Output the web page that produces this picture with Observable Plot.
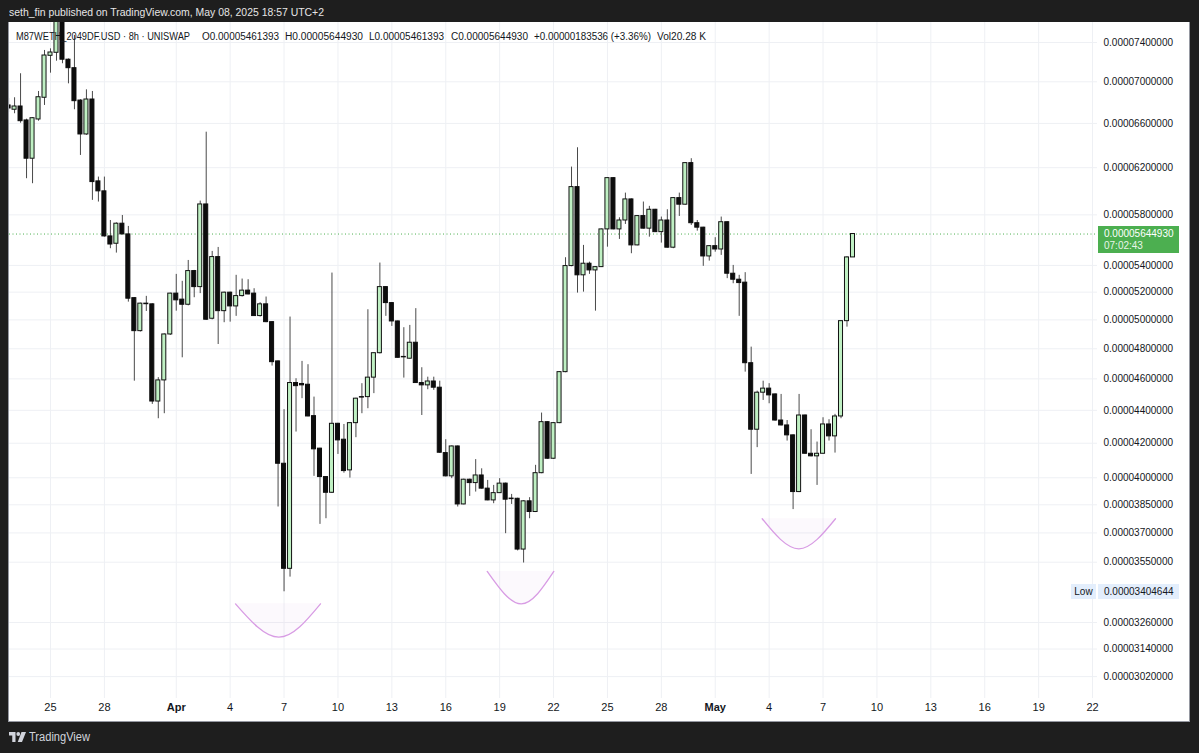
<!DOCTYPE html>
<html><head><meta charset="utf-8">
<script src="https://cdn.jsdelivr.net/npm/d3@7"></script>
<script src="https://cdn.jsdelivr.net/npm/@observablehq/plot@0.6"></script>
<style>
*{box-sizing:border-box}
html,body{margin:0;padding:0}
body{width:1199px;height:753px;background:#1e1e1e;position:relative;overflow:hidden;font-family:"Liberation Sans",Arial,sans-serif}
.abs{position:absolute;white-space:nowrap;display:inline-block}
#panel{position:absolute;left:8px;top:22px;width:1182px;height:700px;background:#fff;border:1px solid #9598a1;border-top:none}
#chart{position:absolute;left:0;top:0}
.leg{font-size:10px;color:#131722;line-height:14px;top:30px}
</style></head><body>
<div id="header" class="abs" style="left:9px;top:5px;font-size:11px;line-height:14px;color:#e6e6e6">seth_fin published on TradingView.com, May 08, 2025 18:57 UTC+2</div>
<div id="panel"><div id="chart"></div></div>
<svg class="abs" style="left:9px;top:732px" width="17" height="10" viewBox="0 0 34 20"><path fill="#d1d4dc" d="M0 0H13V20H6.5V7H0Z"/><circle fill="#d1d4dc" cx="18.5" cy="4" r="3.8"/><path fill="#d1d4dc" d="M25 0H34L26 20H17.5Z"/></svg>
<div id="footer" class="abs" style="left:29px;top:730px;font-size:12px;line-height:14px;color:#d1d4dc">TradingView</div>
<script>
// ---- data (prices in units of 1e-5) ----
const UNIT = 1e-5;
const firstBar = "2025-03-22T16:00:00Z";
const barHours = 8;

const open = [
6.770,
6.729,6.760,6.628, 6.279,6.637,6.844, 7.262,7.293,7.720, 7.222,7.136,6.817,
6.498,6.827,6.081, 5.996,5.626,5.568, 5.728,5.642,5.156, 4.921,5.116,5.111,
4.455,4.590,4.898, 5.189,5.145,5.108, 5.357,5.237,5.886, 5.008,5.464,5.062,
5.196,5.096,5.171, 5.211,5.189,5.027, 5.111,4.984,4.715, 4.080,3.517,4.573,
4.567,4.562,4.364, 4.168,4.004,3.916, 4.317,4.221,4.042, 4.321,4.483,4.483,
4.608,4.770,5.237, 5.120,4.989,4.742, 4.733,4.841,4.573, 4.558,4.583,4.543,
4.142,4.008,4.181, 3.852,3.989,3.970, 4.013,3.939,3.874, 3.914,3.967,3.881,
3.883,3.614,3.869, 3.811,4.026,4.327, 4.109,4.321,4.644, 5.395,6.032,5.325,
5.413,5.362,5.387, 5.682,6.109,5.682, 5.754,5.928,5.555, 5.790,5.688,5.842,
5.660,5.754,5.537, 5.939,5.884,6.240, 5.732,5.696,5.469, 5.549,5.523,5.740,
5.337,5.292,5.270, 4.703,4.281,4.511, 4.537,4.500,4.337, 4.307,4.247,3.920,
4.368,4.138,4.123, 4.138,4.313,4.241, 4.362,4.991,5.461393
];
const high = [
6.837,
6.844,7.080,6.640, 6.655,6.905,7.317, 7.334,7.800,7.850, 7.230,7.474,6.825,
6.921,6.905,6.118, 6.118,5.754,5.735, 5.795,5.706,5.160, 5.120,5.169,5.115,
4.608,4.902,5.192, 5.332,5.280,5.438, 5.362,5.914,6.519, 5.508,5.539,5.200,
5.200,5.325,5.297, 5.292,5.225,5.123, 5.164,4.988,4.718, 4.404,5.020,4.601,
4.715,4.693,4.483, 4.170,4.006,5.342, 4.320,4.313,4.325, 4.476,4.569,5.072,
4.773,5.418,5.240, 5.124,4.992,4.945, 4.961,5.080,4.673, 4.611,4.611,4.585,
4.221,4.184,4.184, 3.992,3.992,4.104, 4.051,3.985,3.957, 3.995,3.970,3.907,
3.886,3.872,3.889, 4.071,4.383,4.330, 4.325,4.647,5.459, 6.205,6.377,5.555,
5.425,5.390,5.685, 6.112,6.112,5.776, 5.981,5.932,5.793, 5.906,5.870,5.845,
5.782,5.842,5.942, 5.981,6.243,6.279, 5.754,5.699,5.552, 5.616,5.782,5.743,
5.400,5.325,5.345, 4.811,4.521,4.585, 4.569,4.503,4.500, 4.337,4.250,4.500,
4.371,4.281,4.207, 4.354,4.342,4.375, 4.994,5.467,5.644930
];
const low = [
6.703,
6.691,6.602,6.104, 6.061,6.621,6.770, 7.086,7.207,7.181, 6.980,6.729,6.308,
6.490,5.920,5.906, 5.620,5.529,5.495, 5.638,5.127,4.585, 4.915,5.060,4.437,
4.348,4.379,4.891, 5.062,4.739,5.100, 5.159,5.189,4.996, 5.000,4.829,4.980,
4.984,5.025,5.164, 5.180,5.024,5.020, 4.980,4.684,3.838, 3.404644,3.476,4.267,
4.473,4.360,4.008, 3.745,3.775,3.912, 4.134,4.026,3.998, 4.233,4.379,4.410,
4.505,4.765,5.025, 4.954,4.736,4.605, 4.730,4.570,4.368, 4.530,4.526,4.140,
4.005,3.995,3.838, 3.850,3.896,3.920, 3.936,3.872,3.856, 3.912,3.696,3.852,
3.607,3.546,3.775, 3.808,4.023,4.106, 4.106,4.318,4.640, 5.390,5.193,5.200,
5.332,5.062,5.384, 5.541,5.679,5.602, 5.722,5.490,5.552, 5.685,5.620,5.657,
5.573,5.534,5.529, 5.787,5.880,5.714, 5.668,5.393,5.433, 5.502,5.477,5.300,
5.262,5.025,4.644, 4.019,4.174,4.462, 4.441,4.333,4.304, 4.213,3.824,3.917,
4.135,4.120,3.957, 4.135,4.213,4.142, 4.348,4.949,5.461393
];
const close = [
6.741,
6.760,6.621,6.279, 6.649,6.849,7.265, 7.296,7.720,7.222, 7.136,6.811,6.498,
6.827,6.075,5.996, 5.626,5.562,5.728, 5.642,5.152,4.921, 5.116,5.112,4.455,
4.590,4.898,5.189, 5.140,5.108,5.357, 5.237,5.886,5.001, 5.464,5.062,5.196,
5.096,5.171,5.211, 5.183,5.027,5.111, 4.984,4.710,4.080, 3.517,4.573,4.553,
4.558,4.362,4.164, 4.004,3.916,4.317, 4.217,4.038,4.321, 4.473,4.480,4.608,
4.770,5.237,5.120, 4.989,4.739,4.745, 4.841,4.573,4.558, 4.583,4.543,4.144,
4.008,4.181,3.852, 3.989,3.970,4.013, 3.939,3.874,3.914, 3.967,3.878,3.884,
3.614,3.869,3.811, 4.026,4.327,4.109, 4.321,4.644,5.395, 6.032,5.325,5.413,
5.362,5.387,5.682, 6.109,5.682,5.754, 5.928,5.555,5.790, 5.688,5.842,5.660,
5.754,5.537,5.939, 5.884,6.240,5.732, 5.696,5.469,5.549, 5.523,5.740,5.337,
5.292,5.267,4.703, 4.281,4.511,4.537, 4.494,4.337,4.307, 4.247,3.920,4.368,
4.138,4.123,4.138, 4.313,4.241,4.362, 4.991,5.461393,5.644930
];

const xTickDates = ["2025-03-25","2025-03-28","2025-04-01","2025-04-04","2025-04-07","2025-04-10","2025-04-13","2025-04-16","2025-04-19","2025-04-22","2025-04-25","2025-04-28","2025-05-01","2025-05-04","2025-05-07","2025-05-10","2025-05-13","2025-05-16","2025-05-19","2025-05-22"];
const xTickLabels = ["25","28","Apr","4","7","10","13","16","19","22","25","28","May","4","7","10","13","16","19","22"];
const monthLabels = ["Apr","May"];
const yTicks = [7.4,7.0,6.6,6.2,5.8,5.4,5.2,5.0,4.8,4.6,4.4,4.2,4.0,3.85,3.7,3.55,3.26,3.14,3.02];

// drawn arcs (annotations): three points each
const arcId    = [1,1,1, 2,2,2, 3,3,3];
const arcTime  = ["2025-04-04T07:08Z","2025-04-06T16:58Z","2025-04-09T00:40Z","2025-04-18T07:22Z","2025-04-20T04:45Z","2025-04-22T00:20Z","2025-05-03T14:43Z","2025-05-05T15:36Z","2025-05-07T16:39Z"];
const arcPrice = [3.347,3.193,3.347, 3.504,3.347,3.504, 3.775,3.618,3.775];
const arcTop   = [3.347,3.347,3.347, 3.504,3.504,3.504, 3.775,3.775,3.775];

const symbolText = "M87WETH_2049DF.USD · 8h · UNISWAP";
const changeText = "+0.00000183536 (+3.36%)";
const volText = "Vol20.28 K";
const countdown = "07:02:43";

// ---- build tables ----
const t0 = new Date(firstBar).getTime();
const bars = open.map((o, i) => ({
  t: new Date(t0 + i * barHours * 3600e3),
  o: o * UNIT, h: high[i] * UNIT, l: low[i] * UNIT, c: close[i] * UNIT
}));
const arcs = arcId.map((id, i) => ({id, t: new Date(arcTime[i]), p: arcPrice[i] * UNIT, top: arcTop[i] * UNIT}));
const ticksX = xTickDates.map((d, i) => ({date: new Date(d + "T00:00Z"), label: xTickLabels[i]}));
const dayTicks = ticksX.filter(d => !monthLabels.includes(d.label));
const monthTicks = ticksX.filter(d => monthLabels.includes(d.label));
const yTickVals = yTicks.map(v => v * UNIT);
const last = bars[bars.length - 1];
const lowVal = d3.min(bars, d => d.l);

const halfBody = 2.7 * 3600e3;
const bodyX1 = d => new Date(+d.t - halfBody);
const bodyX2 = d => new Date(+d.t + halfBody);

const chart = Plot.plot({
  width: 1180, height: 698,
  marginLeft: 0, marginRight: 92, marginTop: 0, marginBottom: 22,
  style: {background: "transparent", color: "#131722", fontFamily: "'Liberation Sans', Arial, sans-serif", fontSize: "10px"},
  x: {type: "utc", domain: [new Date("2025-03-22T17:14Z"), new Date("2025-05-22T06:38Z")], axis: null},
  y: {type: "log", domain: [2.928e-5, 7.612e-5]},
  marks: [
    Plot.gridX(ticksX.map(d => d.date), {stroke: "#eef0f4", strokeOpacity: 1}),
    Plot.gridY(yTickVals, {stroke: "#eef0f4", strokeOpacity: 1}),
    Plot.areaY(arcs, {x: "t", y1: "top", y2: "p", z: "id", curve: "natural", fill: "#ce93d8", fillOpacity: 0.06}),
    Plot.line(arcs, {x: "t", y: "p", z: "id", curve: "natural", stroke: "#d89ce4", strokeWidth: 1.3}),
    Plot.ruleY([last.c], {stroke: "#4caf50", strokeDasharray: "1,2.5", strokeWidth: 1}),
    Plot.ruleX(bars, {x: "t", y1: "l", y2: "h", stroke: "#4a4a4a", strokeWidth: 1, clip: true}),
    Plot.rect(bars.filter(d => d.c >= d.o), {x1: bodyX1, x2: bodyX2, y1: "o", y2: "c", fill: "#bff0c3", stroke: "#111", strokeWidth: 1, clip: true}),
    Plot.rect(bars.filter(d => d.c < d.o), {x1: bodyX1, x2: bodyX2, y1: "o", y2: "c", fill: "#0d0d0d", stroke: "#0d0d0d", strokeWidth: 1, clip: true}),
    Plot.axisY(yTickVals, {anchor: "right", tickSize: 0, tickPadding: 6, tickFormat: d => d.toFixed(11), fontSize: 10, label: null}),
    Plot.text(dayTicks, {x: "date", text: "label", frameAnchor: "bottom", dy: 12, fontSize: 11, fill: "#131722"}),
    Plot.text(monthTicks, {x: "date", text: "label", frameAnchor: "bottom", dy: 12, fontSize: 11, fontWeight: "bold", fill: "#131722"})
  ]
});
document.getElementById("chart").appendChild(chart);

// ---- overlays placed with the plot's own y scale ----
const ys = chart.scale("y");
const yApply = ys.apply ? (v => ys.apply(v)) : d3.scaleLog(ys.domain, ys.range);
const panelTop = 22;
function addBox(html, style) {
  const d = document.createElement("div");
  d.className = "abs";
  d.innerHTML = html;
  Object.assign(d.style, style);
  document.body.appendChild(d);
  return d;
}
const pyLast = panelTop + yApply(last.c);
addBox(`<div style="font-size:10px;line-height:12px;color:#fff">${last.c.toFixed(11)}</div><div style="font-size:10px;line-height:12px;color:#e8f5e9">${countdown}</div>`,
  {left: "1098px", top: (pyLast - 8) + "px", width: "81px", height: "27px", background: "#4caf50", padding: "2px 0 0 6px"});
const pyLow = panelTop + yApply(lowVal);
addBox(`Low`, {left: "1071px", top: (pyLow - 7.5) + "px", width: "25px", height: "15px", background: "#e3eefc", color: "#131722", fontSize: "10px", lineHeight: "15px", textAlign: "center"});
addBox(lowVal.toFixed(11), {left: "1098px", top: (pyLow - 7.5) + "px", width: "81px", height: "15px", background: "#e3eefc", color: "#131722", fontSize: "10px", lineHeight: "15px", paddingLeft: "6px"});

// legend line inside the chart
const legendParts = [
  [symbolText, 16, 174],
  ["O" + last.o.toFixed(11), 202, 77],
  ["H" + last.h.toFixed(11), 285, 78],
  ["L" + last.l.toFixed(11), 369, 75],
  ["C" + last.c.toFixed(11), 451, 77],
  [changeText, 534, 117],
  [volText, 657, 49]
];
function fitText(el, w) {
  const r = el.getBoundingClientRect().width;
  if (r > 0) { el.style.transformOrigin = "0 50%"; el.style.transform = `scaleX(${w / r})`; }
}
for (const [txt, x, w] of legendParts) {
  const el = addBox(txt, {left: x + "px"});
  el.classList.add("leg");
  fitText(el, w);
}
fitText(document.getElementById("header"), 315);
fitText(document.getElementById("footer"), 61);
</script>
</body></html>
